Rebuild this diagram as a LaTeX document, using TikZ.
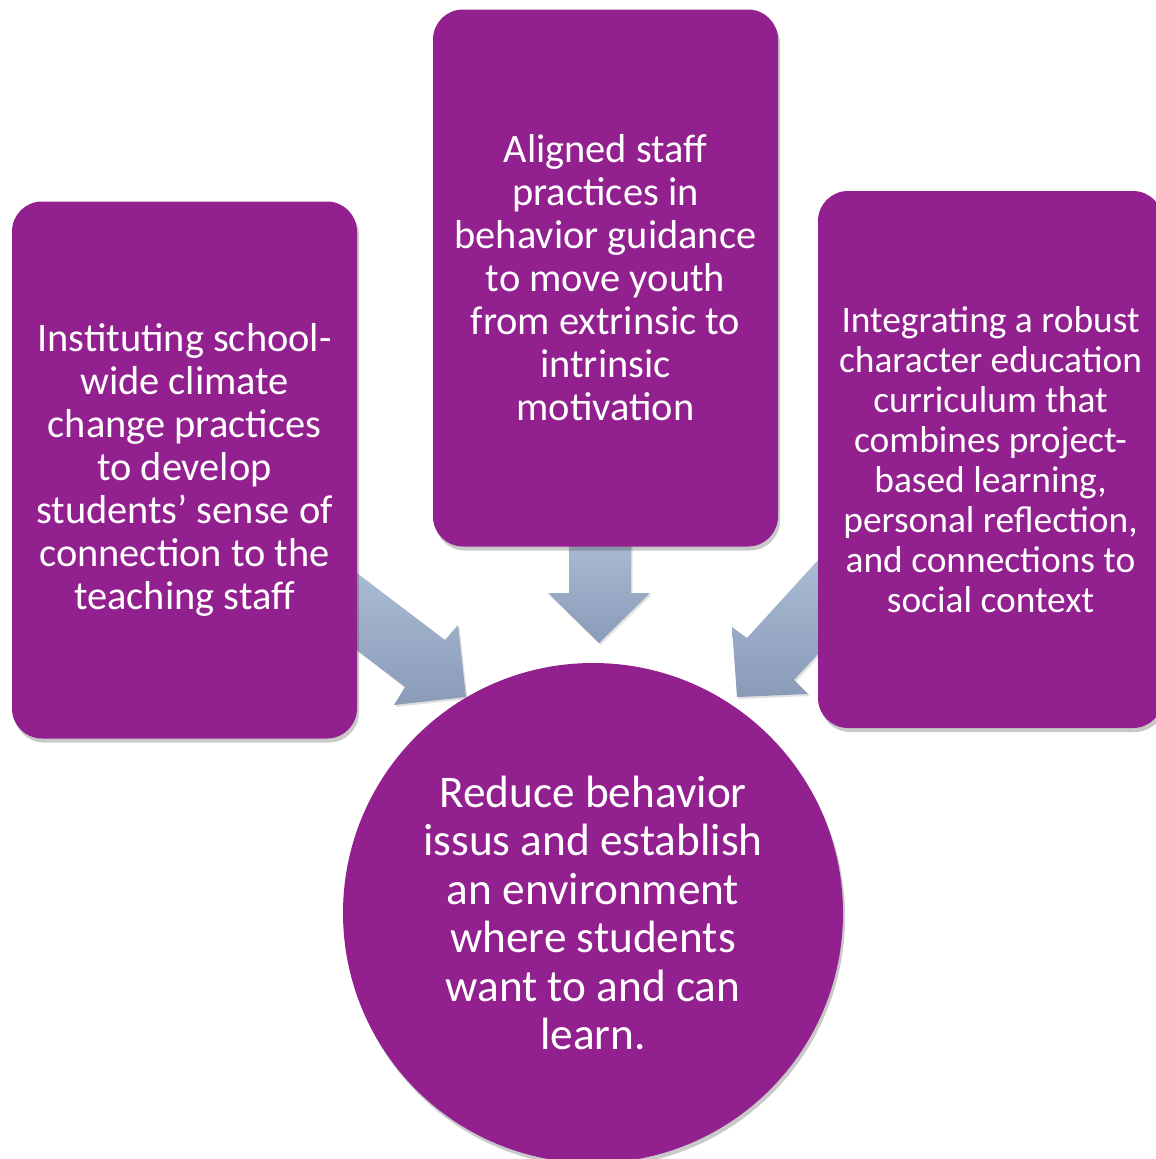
\documentclass[tikz,border=0pt]{standalone}
\usepackage{fontspec}
\setmainfont{Carlito}
\usetikzlibrary{shadows}
\definecolor{purp}{RGB}{147,32,143}
\definecolor{arrtop}{RGB}{172,189,214}
\definecolor{arrbot}{RGB}{138,155,184}
\begin{document}
\begin{tikzpicture}[x=1pt,y=-1pt,
  softshadow/.style={drop shadow={shadow xshift=2pt,shadow yshift=-4pt,opacity=0.3,fill=black!70}},
  box/.style={fill=purp, rounded corners=30pt, minimum width=345pt, minimum height=537pt,
    text=white, align=center, inner sep=0pt, softshadow},
  goalc/.style={circle, fill=purp, minimum size=500pt, text=white, align=center,
    inner sep=0pt, softshadow, font=\fontsize{45.3pt}{48.5pt}\selectfont},
  blockarrow/.style={top color=arrtop, bottom color=arrbot, draw=none,
    drop shadow={shadow xshift=1.5pt,shadow yshift=-2pt,opacity=0.2,fill=black!60}}]
\useasboundingbox (0,0) rectangle (1156,1159);

% block arrows (drawn beneath the boxes)
\path[blockarrow] (345,564) -- (445,640) -- (458,625) -- (466,697) -- (394,705) -- (405,687) -- (345,641) -- cycle;
\path[blockarrow] (569,530) -- (569,593) -- (548,593) -- (599,643) -- (650,593) -- (631,593) -- (631,530) -- cycle;
\path[blockarrow] (830,547) -- (747,638) -- (732,627) -- (737,697) -- (808,694) -- (794,680) -- (830,641) -- cycle;

\node[box, font=\fontsize{40.4pt}{43pt}\selectfont] (left) at (184.5,470)
  {Instituting school-\\wide climate\\change practices\\to develop\\students’ sense of\\connection to the\\teaching staff};
\node[box, font=\fontsize{40.4pt}{43pt}\selectfont] (mid) at (605.5,278)
  {Aligned staff\\practices in\\behavior guidance\\to move youth\\from extrinsic to\\intrinsic\\motivation};
\node[box, font=\fontsize{37.4pt}{40pt}\selectfont] (right) at (990.5,459.5)
  {Integrating a robust\\character education\\curriculum that\\combines project-\\based learning,\\personal reflection,\\and connections to\\social context};

\node[goalc] (goal) at (593,913)
  {Reduce behavior\\issus and establish\\an environment\\where students\\want to and can\\learn.};
\end{tikzpicture}
\end{document}
